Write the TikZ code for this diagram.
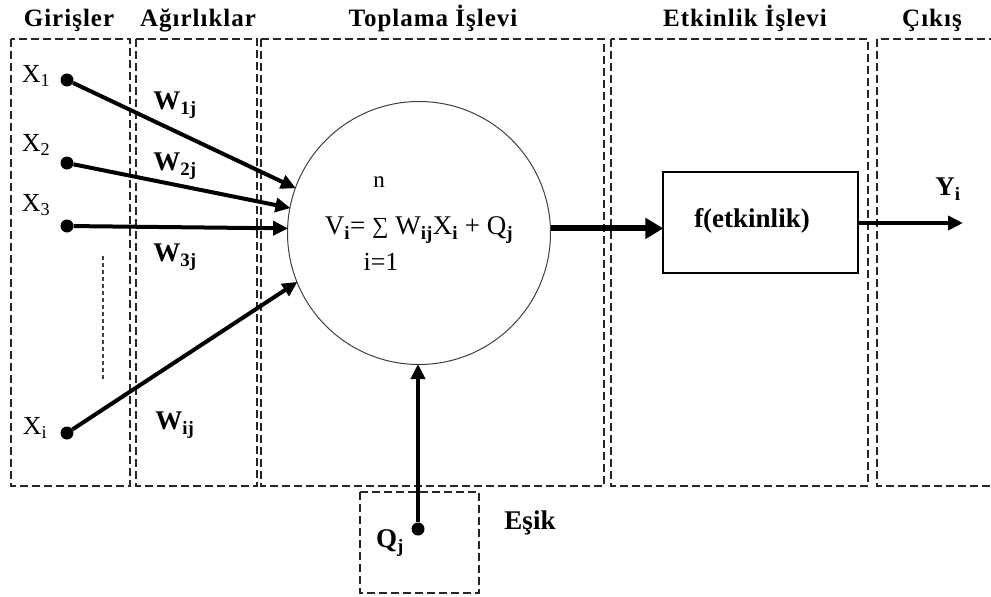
\documentclass[tikz,border=0pt]{standalone}
\usepackage{fontspec}
\setmainfont{Liberation Serif}
\usetikzlibrary{arrows.meta}
\tikzset{
  zone/.style={draw=black!85, line width=1.1pt, dash pattern=on 8pt off 4pt},
  title/.style={font=\fontsize{25}{28}\selectfont\bfseries\addfontfeatures{LetterSpace=4}, anchor=base},
  lbl/.style={font=\fontsize{26}{28}\selectfont},
  wlbl/.style={font=\fontsize{27}{28}\selectfont\bfseries},
  dot/.style={circle, fill=black, inner sep=0pt, minimum size=13pt},
  conn/.style={line width=4pt, -{Triangle[length=15pt,width=14pt]}, shorten >=-1pt},
  bigconn/.style={line width=6pt, -{Triangle[length=18pt,width=20pt]}, shorten >=-1pt},
}
\newcommand{\sbf}[1]{\textsubscript{\bfseries #1}}
\begin{document}
\begin{tikzpicture}[x=1pt,y=-1pt]
\clip (0,0) rectangle (991,597);
\fill[white] (0,0) rectangle (991,597);
% zones
\draw[zone] (11,39) rectangle (130,486);
\draw[zone] (136,39) rectangle (257,486);
\draw[zone] (261,39) rectangle (604,486);
\draw[zone] (611,39) rectangle (868,486);
\draw[zone] (877,39) rectangle (1000,486);
\draw[zone] (360,492) rectangle (479,593);
% titles
\node[title] (t1) at (69,26) {Girişler};
\node[title] (t2) at (198,26) {Ağırlıklar};
\node[title] (t3) at (433,26) {Toplama İşlevi};
\node[title] (t4) at (745,26) {Etkinlik İşlevi};
\node[title] (t5) at (932,26) {Çıkış};
% summation
\node[circle, draw=black!75, line width=1pt, minimum size=263pt, inner sep=0pt] (sum) at (419,233) {};
\node[lbl, font=\fontsize{23}{24}\selectfont] (n) at (379,182) {n};
\node[lbl, font=\fontsize{27}{28}\selectfont] (eq) at (419,230) {V\sbf{i}= \raisebox{1pt}{\fontsize{23}{23}\selectfont ∑} W\sbf{ij}X\sbf{i} + Q\sbf{j}};
\node[lbl] (i1) at (381,262) {i=1};
% activation
\node[draw, line width=1.2pt, minimum width=195pt, minimum height=101pt, inner sep=0pt] (fbox) at (760.5,222.5) {};
\node[font=\fontsize{27}{28}\selectfont\bfseries] (ftext) at (752,221) {f(etkinlik)};
% inputs
\node[dot] (x1) at (67,80) {};
\node[dot] (x2) at (67,163) {};
\node[dot] (x3) at (67,226) {};
\node[dot] (xi) at (67,433) {};
\node[lbl] (lx1) at (36,76) {X\textsubscript{1}};
\node[lbl] (lx2) at (36,145) {X\textsubscript{2}};
\node[lbl] (lx3) at (36,205) {X\textsubscript{3}};
\node[lbl] (lxi) at (35,428) {X\textsubscript{i}};
\node[wlbl] (w1) at (175,105) {W\sbf{1j}};
\node[wlbl] (w2) at (175,166) {W\sbf{2j}};
\node[wlbl] (w3) at (175,257) {W\sbf{3j}};
\node[wlbl] (wi) at (175,425) {W\sbf{ij}};
\draw[conn] (x1) -- (sum.160);
\draw[conn] (x2) -- (sum.169);
\draw[conn] (x3) -- (sum.178);
\draw[conn] (xi) -- (sum.202.5);
% dotted ellipsis line
\coordinate (d1) at (103,256);
\coordinate (d2) at (103,380);
\draw[line width=1.3pt, dash pattern=on 4pt off 3pt, black!75] (d1) -- (d2);
% output
\draw[bigconn] (sum.2.6) -- (sum.2.6 -| fbox.west);
\coordinate (yo) at (962,223);
\draw[conn] (fbox.east |- yo) -- (yo);
\node[wlbl] (ly) at (948,189) {Y\sbf{i}};
% threshold
\node[dot] (q) at (418,529) {};
\draw[conn] (q) -- (q |- sum.south);
\node[wlbl] (lq) at (390,543) {Q\sbf{j}};
\node[wlbl] (esik) at (530,523) {Eşik};
\end{tikzpicture}
\end{document}
